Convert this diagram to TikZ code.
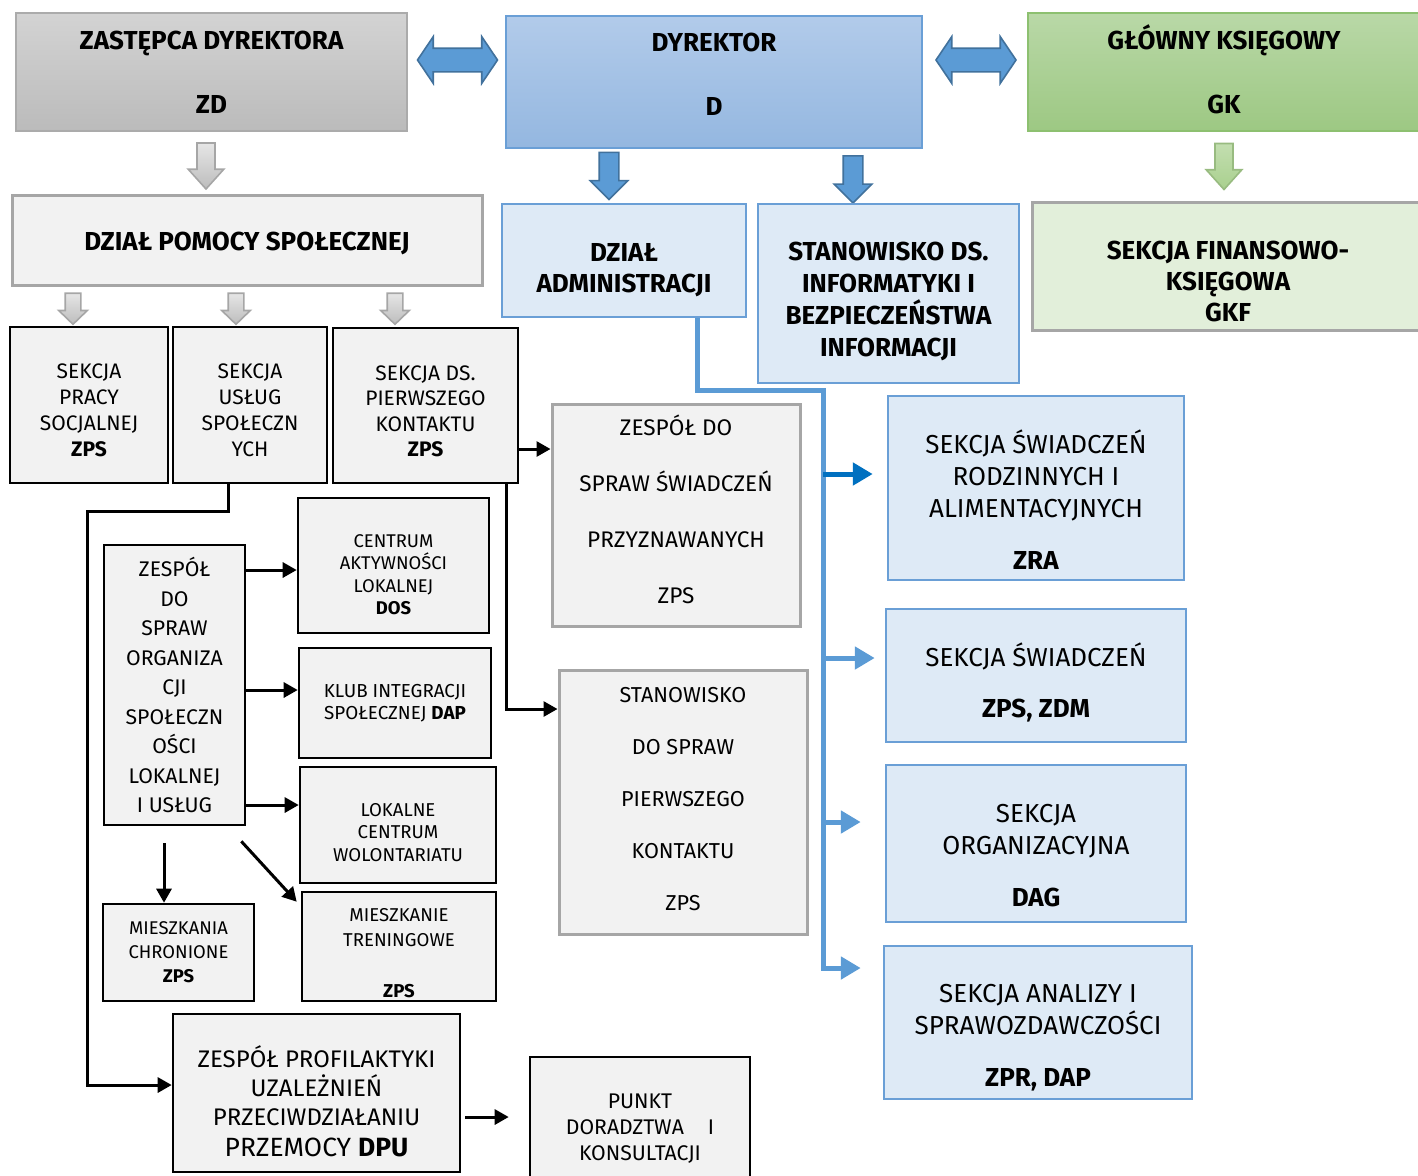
\documentclass[tikz,border=0pt]{standalone}
\usepackage{fontspec}
\setmainfont{Fira Sans}
\usepackage{tikz}
\usetikzlibrary{shapes.arrows,arrows.meta}

\definecolor{grayF}{HTML}{F2F2F2}
\definecolor{grayB}{HTML}{A6A6A6}
\definecolor{blueF}{HTML}{DEEAF6}
\definecolor{blueB}{HTML}{6A9FD6}
\definecolor{blueL}{HTML}{5B9BD5}
\definecolor{blueDk}{HTML}{0070C0}
\definecolor{blueA}{HTML}{5B9BD5}
\definecolor{blueAB}{HTML}{41719C}
\definecolor{greenF}{HTML}{E2EFDA}
\definecolor{greenA}{HTML}{A9D08E}
\definecolor{zdT}{HTML}{D3D3D3}
\definecolor{zdD}{HTML}{BBBBBB}
\definecolor{zdB}{HTML}{ABABAB}
\definecolor{dT}{HTML}{B2CBEA}
\definecolor{dD}{HTML}{94B7E0}
\definecolor{gkT}{HTML}{B9D8A7}
\definecolor{gkD}{HTML}{9DC883}
\definecolor{gkB}{HTML}{8DC070}

\begin{document}
\begin{tikzpicture}[x=0.5pt, y=-0.5pt,
    topbox/.style={rectangle, draw, line width=1pt, inner sep=0pt, align=center,
                   font=\fontsize{13}{16}\selectfont\bfseries},
    graybox/.style={rectangle, draw=grayB, fill=grayF, line width=1.5pt, inner sep=0pt, align=center},
    bluebox/.style={rectangle, draw=blueB, fill=blueF, line width=1.25pt, inner sep=0pt, align=center},
    blkbox/.style={rectangle, draw=black, fill=grayF, line width=1.3pt, inner sep=0pt, align=center},
    boldtxt/.style={font=\fontsize{13}{16}\selectfont\bfseries},
    arrow/.style={-{Triangle[length=7pt,width=7.5pt]}, line width=1.5pt},
    barrow/.style={-{Triangle[length=10pt,width=11pt]}, draw=blueL, line width=2.5pt},
    downarr/.style={single arrow, shape border rotate=270, single arrow tip angle=90},
    bluearr/.style={downarr, fill=blueA, draw=blueAB, line width=0.8pt, inner sep=4.5pt,
                    single arrow head extend=4.5pt, minimum height=23.5pt},
    grayarr/.style={downarr, top color=white!90!black, bottom color=white!74!black, draw=grayB,
                    line width=0.8pt},
    dblarr/.style={double arrow, fill=blueA, draw=blueAB, line width=0.8pt, inner sep=5.5pt,
                   double arrow head extend=5.75pt, double arrow tip angle=112, minimum height=40pt}
]
    \useasboundingbox (0,0) rectangle (1418,1175);

    % top row
    \node[topbox, draw=zdB, top color=zdT, bottom color=zdD, minimum width=195.5pt,
          minimum height=59pt] (zd) at (211.5,72) {ZASTĘPCA DYREKTORA\\[16pt]ZD};
    \node[topbox, draw=blueB, top color=dT, bottom color=dD, minimum width=208pt,
          minimum height=66pt] (dyr) at (714,82) {DYREKTOR\\[16pt]D\\[-8pt]\mbox{}};
    \node[topbox, draw=gkB, top color=gkT, bottom color=gkD, minimum width=196pt,
          minimum height=59pt] (gk) at (1224,72) {GŁÓWNY KSIĘGOWY\\[16pt]GK\\[-13pt]\mbox{}};

    \node[dblarr] (zd-dyr) at (457.5,60) {};
    \node[dblarr] (dyr-gk) at (976,60) {};

    \node[grayarr, inner sep=4.1pt, single arrow head extend=4.4pt, single arrow tip angle=84,
          minimum height=23pt] (zd-dps) at (206,161) {};
    \node[bluearr] (dyr-da) at (609,171) {};
    \node[bluearr] (dyr-si) at (853,174.5) {};
    \node[grayarr, top color=greenA!70, bottom color=greenA, draw=greenA!90!black,
          inner sep=4.1pt, single arrow head extend=4.4pt, single arrow tip angle=84,
          minimum height=23pt] (gk-sf) at (1224,161.5) {};

    % second row
    \node[graybox, boldtxt, minimum width=235pt, minimum height=45pt] (dps) at (247,240)
        {\mbox{}\\[-2.9pt]DZIAŁ POMOCY SPOŁECZNEJ};
    \node[bluebox, font=\fontsize{13}{15.5}\selectfont\bfseries, minimum width=122pt,
          minimum height=56.5pt] (da) at (624,260.5) {\mbox{}\\[3pt]DZIAŁ\\ADMINISTRACJI};
    \node[bluebox, boldtxt, minimum width=130.5pt, minimum height=89.5pt] (si) at (888.5,293.5)
        {\mbox{}\\[1.1pt]STANOWISKO DS.\\INFORMATYKI I\\BEZPIECZEŃSTWA\\INFORMACJI};
    \node[graybox, fill=greenF, font=\fontsize{13}{15.5}\selectfont\bfseries, minimum width=196pt,
          minimum height=64pt] (sf) at (1228,266) {\mbox{}\\[9pt]SEKCJA FINANSOWO-\\KSIĘGOWA\\GKF};

    \foreach \x/\n in {73/a, 236/b, 395/c}
        \node[grayarr, inner sep=3.5pt, single arrow head extend=3.25pt, single arrow tip angle=92,
              minimum height=15.5pt] (dps-\n) at (\x,305) {};

    % sekcje pod DPS
    \node[blkbox, font=\fontsize{10.5}{13}\selectfont, minimum width=79pt, minimum height=78pt]
        (sps) at (89,405) {\mbox{}\\SEKCJA\\PRACY\\SOCJALNEJ\\\textbf{ZPS}};
    \node[blkbox, font=\fontsize{10.5}{13}\selectfont, minimum width=77pt, minimum height=78pt]
        (sus) at (250,405) {\mbox{}\\SEKCJA\\USŁUG\\SPOŁECZN\\YCH};
    \node[blkbox, font=\fontsize{10.5}{12.75}\selectfont, minimum width=92.5pt, minimum height=77.5pt]
        (spk) at (425.5,405.5) {\mbox{}\\[0.6pt]SEKCJA DS.\\PIERWSZEGO\\KONTAKTU\\\textbf{ZPS}};

    \node[graybox, font=\fontsize{11.3}{28}\selectfont, minimum width=124pt, minimum height=111pt]
        (zsw) at (676,515) {ZESPÓŁ DO\\SPRAW ŚWIADCZEŃ\\PRZYZNAWANYCH\\ZPS\\[-22.5pt]\mbox{}};
    \node[graybox, font=\fontsize{10.8}{26}\selectfont, minimum width=124pt, minimum height=132pt]
        (stp) at (683,802) {STANOWISKO\\DO SPRAW\\PIERWSZEGO\\KONTAKTU\\ZPS\\[-22.5pt]\mbox{}};

    \node[blkbox, font=\fontsize{9.2}{11.25}\selectfont, minimum width=95.5pt, minimum height=67.5pt]
        (cal) at (393.5,565.5) {\mbox{}\\[4.2pt]CENTRUM\\AKTYWNOŚCI\\LOKALNEJ\\\textbf{DOS}};
    \node[blkbox, font=\fontsize{9.4}{11}\selectfont, minimum width=96pt, minimum height=55pt]
        (kis) at (395,703) {KLUB INTEGRACJI\\SPOŁECZNEJ \textbf{DAP}};
    \node[blkbox, font=\fontsize{9.3}{11.25}\selectfont, minimum width=98pt, minimum height=58pt]
        (lcw) at (398,825) {\mbox{}\\[2.75pt]LOKALNE\\CENTRUM\\WOLONTARIATU};
    \node[blkbox, font=\fontsize{9.3}{12.5}\selectfont, minimum width=97pt, minimum height=54.5pt]
        (mt) at (399,946.5) {\mbox{}\\[0.9pt]MIESZKANIE\\TRENINGOWE\\[13pt]\textbf{ZPS}};
    \node[blkbox, font=\fontsize{10.6}{14.75}\selectfont, minimum width=70.5pt, minimum height=140pt]
        (zos) at (174.5,685)
        {ZESPÓŁ\\DO\\SPRAW\\ORGANIZA\\CJI\\SPOŁECZN\\OŚCI\\LOKALNEJ\\I USŁUG};
    \node[blkbox, font=\fontsize{9.2}{12}\selectfont, minimum width=75.5pt, minimum height=48.5pt]
        (mc) at (178.5,952.5) {MIESZKANIA\\CHRONIONE\\\textbf{ZPS}};
    \node[blkbox, font=\fontsize{12}{14.5}\selectfont, minimum width=143.5pt, minimum height=79pt]
        (zpu) at (316.5,1093) {\mbox{}\\[4.9pt]ZESPÓŁ PROFILAKTYKI\\UZALEŻNIEŃ\\PRZECIWDZIAŁANIU\\[1pt]
        {\fontsize{13.2}{14.5}\selectfont PRZEMOCY \textbf{DPU}}};
    \node[blkbox, font=\fontsize{10.6}{13}\selectfont, minimum width=110pt, minimum height=69pt]
        (pdk) at (640,1126) {\mbox{}\\[-2.7pt]PUNKT\\DORADZTWA\hspace{12pt}I\\KONSULTACJI};

    % sekcje pod DA
    \node[bluebox, font=\fontsize{13}{16}\selectfont, minimum width=148pt, minimum height=92pt]
        (r1) at (1036,488)
        {\mbox{}\\[7.3pt]SEKCJA ŚWIADCZEŃ\\RODZINNYCH I\\ALIMENTACYJNYCH\\[10pt]\textbf{ZRA}};
    \node[bluebox, font=\fontsize{13}{16}\selectfont, minimum width=150pt, minimum height=66.5pt]
        (r2) at (1036,675.5) {\mbox{}\\[2.3pt]SEKCJA ŚWIADCZEŃ\\[9.5pt]\textbf{ZPS, ZDM}};
    \node[bluebox, font=\fontsize{13}{16}\selectfont, minimum width=150pt, minimum height=78.5pt]
        (r3) at (1036,843.5) {\mbox{}\\[5.1pt]SEKCJA\\ORGANIZACYJNA\\[10pt]\textbf{DAG}};
    \node[bluebox, font=\fontsize{13}{16}\selectfont, minimum width=154pt, minimum height=76.5pt]
        (r4) at (1038,1022.5) {\mbox{}\\[8.1pt]SEKCJA ANALIZY I\\SPRAWOZDAWCZOŚCI\\[10pt]\textbf{ZPR, DAP}};

    % black connectors
    \coordinate (lt) at (87,511);
    \draw[arrow] ([xshift=-11pt]sus.south) |- (lt) |- ([yshift=4pt]zpu.west);
    \draw[arrow] ([yshift=-21.75pt]spk.east) -- ([yshift=-21.75pt]spk.east -| zsw.west);
    \draw[arrow] ([xshift=40.25pt]spk.south) |- ([yshift=46.5pt]stp.west);
    \draw[arrow] ([yshift=57.5pt]zos.east) -- ([yshift=57.5pt]zos.east -| cal.west);
    \draw[arrow] ([yshift=-2.5pt]zos.east) -- ([yshift=-2.5pt]zos.east -| kis.west);
    \draw[arrow] ([yshift=-60pt]zos.east) -- ([yshift=-60pt]zos.east -| lcw.west);
    \draw[arrow] ([xshift=-5.25pt,yshift=-8.5pt]zos.south) -- ([xshift=-5.25pt]zos.south |- mc.north);
    \draw[arrow] ([xshift=-2.5pt,yshift=-7.5pt]zos.south east) -- ([xshift=-2pt,yshift=-5.5pt]mt.north west);
    \draw[arrow] ([xshift=2pt,yshift=-12pt]zpu.east) -- ([xshift=-10pt,yshift=-12pt]zpu.east -| pdk.west);

    % blue connectors
    \coordinate (tk) at (823,390);
    \draw[barrow] ([xshift=36.5pt]da.south) |- (tk) |- ([xshift=-11pt,yshift=27.25pt]r4.west);
    \draw[barrow, draw=blueDk] ([yshift=7pt]r1.west -| tk) -- ([xshift=-7pt,yshift=7pt]r1.west);
    \draw[barrow] ([yshift=8.75pt]r2.west -| tk) -- ([xshift=-5pt,yshift=8.75pt]r2.west);
    \draw[barrow] ([yshift=10.75pt]r3.west -| tk) -- ([xshift=-12pt,yshift=10.75pt]r3.west);

\end{tikzpicture}
\end{document}
